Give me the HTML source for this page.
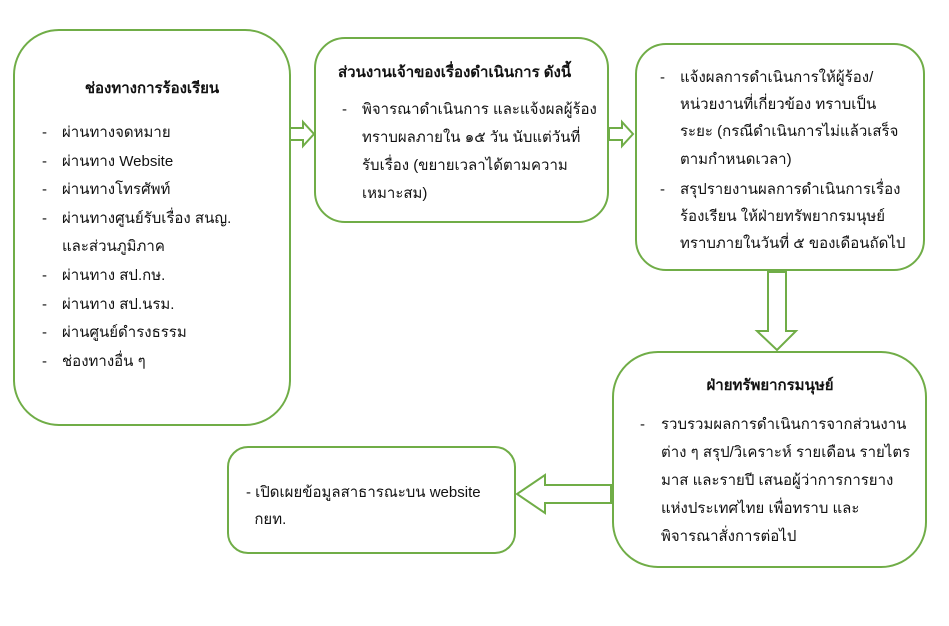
<!DOCTYPE html>
<html><head><meta charset="utf-8"><style>
body{margin:0;width:949px;height:626px;background:#fff;position:relative;overflow:hidden;font-family:"Liberation Sans","DejaVu Sans",sans-serif;color:#111;font-size:15px}
.t{position:absolute;white-space:nowrap}
.b{font-weight:bold}
.l{position:relative;padding-left:20px}
.l i{position:absolute;left:0;top:0;font-style:normal}
</style></head><body>
<svg width="949" height="626" style="position:absolute;left:0;top:0">
<g fill="#fff" stroke="#70ad47" stroke-width="2">
<rect x="14" y="30" width="276" height="395" rx="45"/>
<rect x="315" y="38" width="293" height="184" rx="30"/>
<rect x="636" y="44" width="288" height="226" rx="30"/>
<rect x="613" y="352" width="313" height="215" rx="45"/>
<rect x="228" y="447" width="287" height="106" rx="20"/>
<polygon points="290,128 303,128 303,122 314,134 303,146 303,140 290,140"/>
<polygon points="609,128 622,128 622,122 633,134 622,146 622,140 609,140"/>
<polygon points="768,272 786,272 786,331 796,331 777,350 757,331 768,331"/>
<polygon points="611,485 545,485 545,475 517,494 545,513 545,503 611,503"/>
</g></svg>
<div class="t b" style="left:152px;top:76px;transform:translateX(-50%)">ช่องทางการร้องเรียน</div>
<div class="t" style="left:42px;top:119px;line-height:28.6px">
<div class="l"><i>-</i>ผ่านทางจดหมาย</div>
<div class="l"><i>-</i>ผ่านทาง Website</div>
<div class="l"><i>-</i>ผ่านทางโทรศัพท์</div>
<div class="l"><i>-</i>ผ่านทางศูนย์รับเรื่อง สนญ.<br>และส่วนภูมิภาค</div>
<div class="l"><i>-</i>ผ่านทาง สป.กษ.</div>
<div class="l"><i>-</i>ผ่านทาง สป.นรม.</div>
<div class="l"><i>-</i>ผ่านศูนย์ดำรงธรรม</div>
<div class="l"><i>-</i>ช่องทางอื่น ๆ</div>
</div>
<div class="t b" style="left:338px;top:60px">ส่วนงานเจ้าของเรื่องดำเนินการ ดังนี้</div>
<div class="t" style="left:342px;top:96px;line-height:28px"><div class="l"><i>-</i>พิจารณาดำเนินการ และแจ้งผลผู้ร้อง<br>ทราบผลภายใน ๑๕ วัน นับแต่วันที่<br>รับเรื่อง (ขยายเวลาได้ตามความ<br>เหมาะสม)</div></div>
<div class="t" style="left:660px;top:64px;line-height:27.2px">
<div class="l"><i>-</i>แจ้งผลการดำเนินการให้ผู้ร้อง/<br>หน่วยงานที่เกี่ยวข้อง ทราบเป็น<br>ระยะ (กรณีดำเนินการไม่แล้วเสร็จ<br>ตามกำหนดเวลา)</div>
<div class="l" style="margin-top:3px"><i>-</i>สรุปรายงานผลการดำเนินการเรื่อง<br>ร้องเรียน ให้ฝ่ายทรัพยากรมนุษย์<br>ทราบภายในวันที่ ๕ ของเดือนถัดไป</div>
</div>
<div class="t b" style="left:770px;top:373px;transform:translateX(-50%)">ฝ่ายทรัพยากรมนุษย์</div>
<div class="t" style="left:640px;top:411px;line-height:28px"><div class="l" style="padding-left:21px"><i>-</i>รวบรวมผลการดำเนินการจากส่วนงาน<br>ต่าง ๆ สรุป/วิเคราะห์ รายเดือน รายไตร<br>มาส และรายปี เสนอผู้ว่าการการยาง<br>แห่งประเทศไทย เพื่อทราบ และ<br>พิจารณาสั่งการต่อไป</div></div>
<div class="t" style="left:246px;top:479px;line-height:27px">- เปิดเผยข้อมูลสาธารณะบน website<br>&nbsp;&nbsp;กยท.</div>
</body></html>
